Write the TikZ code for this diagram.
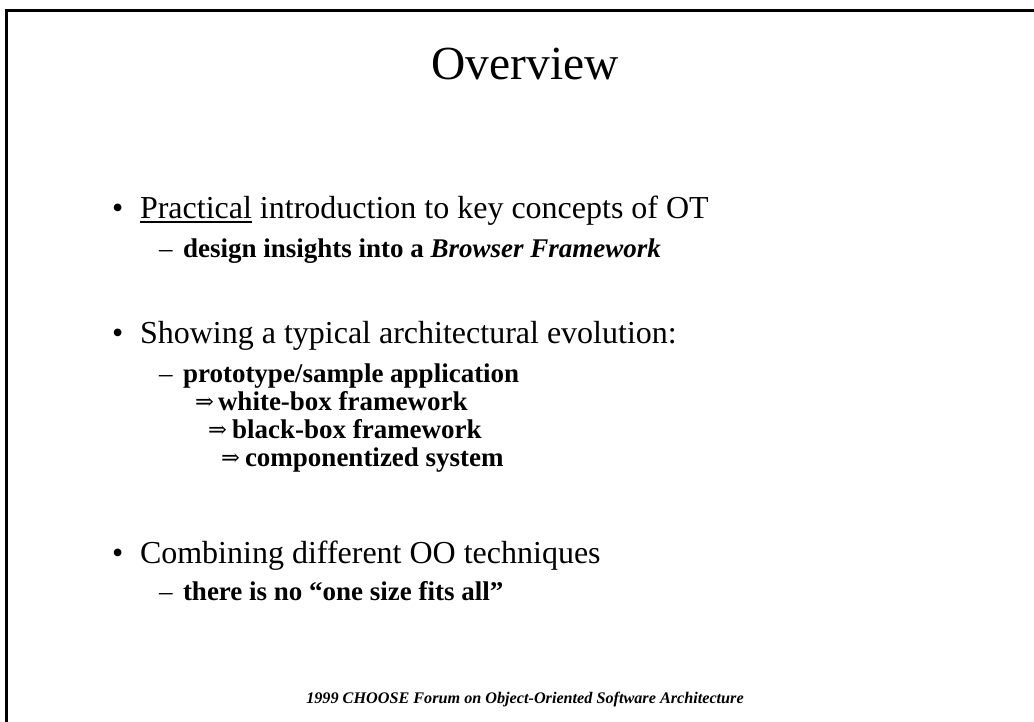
\documentclass[tikz,border=0pt]{standalone}
\usepackage{fontspec}
\setmainfont{Liberation Serif}
\newfontfamily\arrowfont{DejaVu Serif}

% underline drawn as a rule just under the baseline
\newcommand\ulword[1]{\setbox0\hbox{#1}\rlap{\rule[-3.8pt]{\wd0}{1.8pt}}\copy0{}}

\begin{document}
\begin{tikzpicture}[x=1pt,y=-1pt,
  txt/.style={anchor=base west,inner sep=0pt,outer sep=0pt},
  title/.style={anchor=base,inner sep=0pt,font=\fontsize{47.5}{54}\selectfont},
  lvlone/.style={txt,font=\fontsize{32}{38}\selectfont},
  lvltwo/.style={txt,font=\fontsize{27}{32}\selectfont\bfseries},
  dashmark/.style={txt,font=\fontsize{27}{32}\selectfont},
  evarrow/.style={txt,font=\fontsize{22.5}{27}\selectfont\arrowfont},
  footer/.style={anchor=base,inner sep=0pt,font=\fontsize{16.2}{19}\selectfont\bfseries\itshape},
  frame/.style={line width=3pt,black}]
\useasboundingbox (0,0) rectangle (1034,722);
\clip (0,0) rectangle (1034,722);

% slide frame (right and bottom edges lie outside the page)
\draw[frame] (6.5,760) -- (6.5,10.5) -- (1080,10.5);

% title
\node[title] (ttl) at (525,80) {Overview};

% first bullet
\node[lvlone] (b1) at (112,219) {•};
\node[lvlone] (t1) at (140,219) {\ulword{Practical} introduction to key concepts of OT};
\node[dashmark] (d1) at (159,258) {–};
\node[lvltwo] (s1) at (183,258) {design insights into a \textit{Browser Framework}};

% second bullet
\node[lvlone] (b2) at (112,343) {•};
\node[lvlone] (t2) at (140,343) {Showing a typical architectural evolution:};
\node[dashmark] (d2) at (159,382) {–};
\node[lvltwo] (s2) at (183,382) {prototype/sample application};
\node[evarrow] (a1) at (195,409) {⇒};
\node[lvltwo] (s3) at (218,410) {white-box framework};
\node[evarrow] (a2) at (208,437) {⇒};
\node[lvltwo] (s4) at (232,438) {black-box framework};
\node[evarrow] (a3) at (221,465) {⇒};
\node[lvltwo] (s5) at (245,466) {componentized system};

% third bullet
\node[lvlone] (b3) at (112,563) {•};
\node[lvlone] (t3) at (140,563) {Combining different OO techniques};
\node[dashmark] (d3) at (159,600) {–};
\node[lvltwo] (s6) at (183,600) {there is no “one size fits all”};

% footer
\node[footer] (ft) at (525,703) {1999 CHOOSE Forum on Object-Oriented Software Architecture};
\end{tikzpicture}
\end{document}
